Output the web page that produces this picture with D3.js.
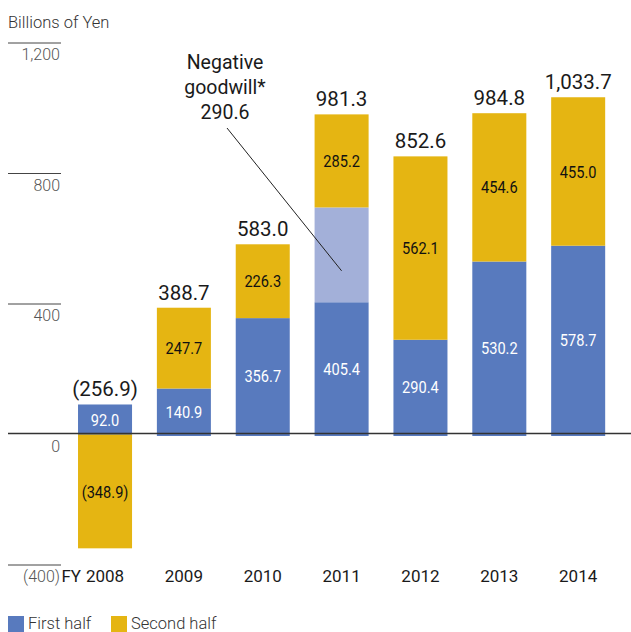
<!DOCTYPE html>
<html>
<head>
<meta charset="utf-8">
<script src="https://cdn.jsdelivr.net/npm/d3@7"></script>
<style>
  html, body { margin: 0; padding: 0; background: #fff; }
  svg { display: block; }
</style>
</head>
<body>
<svg id="chart" width="631" height="632"></svg>
<script>
// Fiscal years shown on the x axis
const years = ["2008", "2009", "2010", "2011", "2012", "2013", "2014"];
// Profit by half-year, billions of yen
const firstHalf = [92.0, 140.9, 356.7, 405.4, 290.4, 530.2, 578.7];
const goodwill = [0, 0, 0, 290.6, 0, 0, 0];
const secondHalf = [-348.9, 247.7, 226.3, 285.2, 562.1, 454.6, 455.0];
const totals = ["(256.9)", "388.7", "583.0", "981.3", "852.6", "984.8", "1,033.7"];
// Y-axis ticks and their labels
const yTicks = [1200, 800, 400, 0, -400];
const yTickLabels = ["1,200", "800", "400", "0", "(400)"];

const BLUE = "#587abe", YELLOW = "#e5b512", LIGHT = "#a3b0d9";
const svg = d3.select("#chart");

const y = d3.scaleLinear().domain([-400, 1200]).range([565, 43]);
const x = d3.scaleBand().domain(years).range([65.6, 617.6])
  .paddingInner(0.315).paddingOuter(0.1575);
const cx = d => x(d) + x.bandwidth() / 2;

const fmt = v => v < 0 ? "(" + Math.abs(v).toFixed(1) + ")" : v.toFixed(1);

// axis title
svg.append("text").attr("x", 8).attr("y", 28)
  .attr("font-family", "Roboto, sans-serif").attr("font-weight", 300)
  .attr("font-size", 16.5).attr("fill", "#333").text("Billions of Yen");

// tick rules and labels
yTicks.forEach((t, i) => {
  if (t !== 0) {
    svg.append("line").attr("x1", 8).attr("x2", 61)
      .attr("y1", y(t)).attr("y2", y(t))
      .attr("stroke", "#444").attr("stroke-width", 1);
  }
  svg.append("text").attr("x", 60).attr("y", y(t) + 17)
    .attr("text-anchor", "end")
    .attr("font-family", "Roboto, sans-serif").attr("font-weight", 300)
    .attr("font-size", 16).attr("fill", "#555").text(yTickLabels[i]);
});

// stacked segments
const segs = [];
years.forEach((yr, i) => {
  segs.push({ yr, y0: 0, y1: firstHalf[i], color: BLUE });
  let base = firstHalf[i];
  if (goodwill[i]) {
    segs.push({ yr, y0: base, y1: base + goodwill[i], color: LIGHT });
    base += goodwill[i];
  }
  if (secondHalf[i] < 0) segs.push({ yr, y0: 0, y1: secondHalf[i], color: YELLOW });
  else segs.push({ yr, y0: base, y1: base + secondHalf[i], color: YELLOW });
});

svg.append("g").selectAll("rect").data(segs).join("rect")
  .attr("x", d => x(d.yr))
  .attr("width", x.bandwidth())
  .attr("y", d => Math.min(y(d.y0), y(d.y1)))
  .attr("height", d => Math.abs(y(d.y1) - y(d.y0)) + (d.y0 === 0 && d.y1 > 0 ? 1.5 : 0))
  .attr("fill", d => d.color);

// zero line
svg.append("line").attr("x1", 8).attr("x2", 631)
  .attr("y1", y(0) - 1).attr("y2", y(0) - 1)
  .attr("stroke", "#333").attr("stroke-width", 1.5);

// in-bar value labels (horizontally condensed)
const inLabels = [];
years.forEach((yr, i) => {
  inLabels.push({ yr, mid: firstHalf[i] / 2, text: fmt(firstHalf[i]), color: "#fff" });
  const base = secondHalf[i] < 0 ? 0 : firstHalf[i] + goodwill[i];
  inLabels.push({ yr, mid: base + secondHalf[i] / 2, text: fmt(secondHalf[i]), color: "#111" });
});
svg.append("g").selectAll("text").data(inLabels).join("text")
  .attr("transform", d => `translate(${cx(d.yr)},${y(d.mid)}) scale(0.86,1)`)
  .attr("dy", "0.36em")
  .attr("text-anchor", "middle")
  .attr("font-family", "Roboto, sans-serif")
  .attr("font-size", 17)
  .attr("fill", d => d.color)
  .text(d => d.text);

// totals above each bar
svg.append("g").selectAll("text").data(years).join("text")
  .attr("x", d => cx(d))
  .attr("y", (d, i) => {
    const top = Math.max(firstHalf[i], firstHalf[i] + goodwill[i] + Math.max(0, secondHalf[i]));
    return y(top) - 8;
  })
  .attr("text-anchor", "middle")
  .attr("font-family", "Roboto, sans-serif")
  .attr("font-size", 20.5).attr("fill", "#1a1a1a")
  .text((d, i) => totals[i]);

// x-axis category labels
svg.append("g").selectAll("text").data(years).join("text")
  .attr("x", d => cx(d))
  .attr("y", 582)
  .attr("text-anchor", "middle")
  .attr("font-family", "Roboto, sans-serif")
  .attr("font-size", 17).attr("fill", "#1a1a1a")
  .text(d => d);
svg.append("text")
  .attr("x", cx(years[0]) - 24).attr("y", 582)
  .attr("text-anchor", "end")
  .attr("font-family", "Roboto, sans-serif")
  .attr("font-size", 17).attr("fill", "#1a1a1a").text("FY");

// negative goodwill annotation
const gIdx = years.indexOf("2011");
const ann = svg.append("g").attr("font-family", "Roboto, sans-serif")
  .attr("font-size", 19.5).attr("fill", "#1a1a1a").attr("text-anchor", "middle");
["Negative", "goodwill*", fmt(goodwill[gIdx])].forEach((t, i) => {
  ann.append("text").attr("x", 225).attr("y", 69 + i * 25).text(t);
});
svg.append("line")
  .attr("x1", 227).attr("y1", 128)
  .attr("x2", cx("2011")).attr("y2", y(firstHalf[gIdx] + goodwill[gIdx] / 2) + 16)
  .attr("stroke", "#222").attr("stroke-width", 1);

// legend
const legend = [{ label: "First half", color: BLUE, x: 8 }, { label: "Second half", color: YELLOW, x: 111 }];
legend.forEach(l => {
  svg.append("rect").attr("x", l.x).attr("y", 616).attr("width", 16).attr("height", 16).attr("fill", l.color);
  svg.append("text").attr("x", l.x + 20).attr("y", 629)
    .attr("font-family", "Roboto, sans-serif").attr("font-weight", 300)
    .attr("font-size", 16.5).attr("fill", "#333").text(l.label);
});
</script>
</body>
</html>
